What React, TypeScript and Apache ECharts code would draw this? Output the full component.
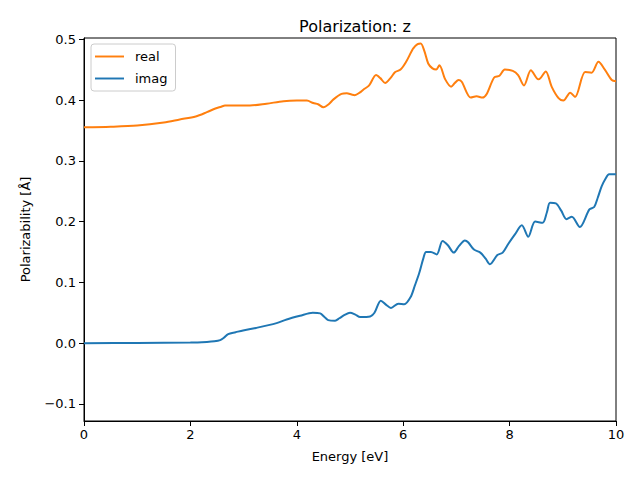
import React, { useEffect, useRef } from "react";
import * as echarts from "echarts";

const realEnergy = [0, 0.5, 1.0, 1.5, 1.8, 2.1, 2.31, 2.47, 2.58, 2.65, 2.8, 3.12, 3.43, 3.75, 4.0, 4.19, 4.31, 4.40, 4.50, 4.60, 4.69, 4.84, 4.94, 5.03, 5.09, 5.18, 5.25, 5.36, 5.49, 5.57, 5.66, 5.76, 5.85, 5.95, 6.05, 6.19, 6.27, 6.33, 6.40, 6.47, 6.55, 6.62, 6.68, 6.79, 6.90, 6.97, 7.04, 7.10, 7.27, 7.38, 7.49, 7.57, 7.71, 7.81, 7.91, 8.06, 8.16, 8.27, 8.40, 8.54, 8.58, 8.68, 8.79, 8.92, 9.01, 9.14, 9.23, 9.42, 9.54, 9.67, 9.79, 9.92, 10];
const realValues = [0.355, 0.356, 0.358, 0.363, 0.368, 0.373, 0.380, 0.386, 0.389, 0.391, 0.391, 0.391, 0.394, 0.398, 0.399, 0.399, 0.395, 0.393, 0.388, 0.393, 0.401, 0.410, 0.411, 0.409, 0.408, 0.412, 0.417, 0.424, 0.441, 0.436, 0.428, 0.436, 0.446, 0.450, 0.462, 0.485, 0.492, 0.493, 0.480, 0.460, 0.452, 0.450, 0.457, 0.434, 0.422, 0.428, 0.433, 0.430, 0.404, 0.406, 0.404, 0.410, 0.437, 0.440, 0.450, 0.448, 0.441, 0.424, 0.449, 0.434, 0.436, 0.447, 0.422, 0.403, 0.399, 0.412, 0.405, 0.446, 0.445, 0.463, 0.450, 0.433, 0.431];

const imagEnergy = [0, 1, 2, 2.31, 2.45, 2.56, 2.63, 2.71, 2.85, 2.99, 3.23, 3.62, 3.81, 4.06, 4.30, 4.44, 4.52, 4.59, 4.72, 4.80, 4.89, 5.0, 5.10, 5.19, 5.38, 5.46, 5.58, 5.68, 5.77, 5.91, 6.02, 6.14, 6.22, 6.30, 6.38, 6.43, 6.52, 6.63, 6.74, 6.84, 6.95, 7.05, 7.16, 7.22, 7.33, 7.45, 7.55, 7.63, 7.77, 7.87, 7.98, 8.10, 8.23, 8.35, 8.48, 8.62, 8.70, 8.76, 8.87, 8.97, 9.07, 9.17, 9.32, 9.50, 9.59, 9.66, 9.73, 9.80, 9.87, 10];
const imagValues = [0.000, 0.0005, 0.001, 0.002, 0.003, 0.005, 0.009, 0.015, 0.018, 0.021, 0.025, 0.033, 0.039, 0.045, 0.050, 0.049, 0.043, 0.038, 0.037, 0.041, 0.046, 0.050, 0.047, 0.043, 0.044, 0.050, 0.070, 0.063, 0.058, 0.065, 0.064, 0.076, 0.095, 0.115, 0.140, 0.150, 0.150, 0.146, 0.168, 0.161, 0.149, 0.160, 0.169, 0.166, 0.154, 0.149, 0.139, 0.130, 0.145, 0.149, 0.164, 0.179, 0.194, 0.175, 0.200, 0.198, 0.215, 0.231, 0.230, 0.218, 0.204, 0.208, 0.191, 0.220, 0.224, 0.240, 0.258, 0.270, 0.278, 0.278];

const yTicks = [-0.1, 0, 0.1, 0.2, 0.3, 0.4, 0.5];
const xTicks = [0, 2, 4, 6, 8, 10];

const FONT = "DejaVu Sans";

export default function App() {
  const ref = useRef<HTMLDivElement>(null);
  useEffect(() => {
    if (!ref.current) return;
    const chart = echarts.init(ref.current, null, { renderer: "svg" });
    const realData = realEnergy.map((e, i) => [e, realValues[i]]);
    const imagData = imagEnergy.map((e, i) => [e, imagValues[i]]);
    chart.setOption({
      animation: false,
      backgroundColor: "#ffffff",
      textStyle: { fontFamily: FONT },
      title: {
        text: "Polarization: z",
        left: 350,
        top: 13,
        textAlign: "center",
        textStyle: { fontFamily: FONT, fontSize: 16, fontWeight: "normal", color: "#000" },
      },
      grid: {
        left: 84,
        right: 24,
        top: 38,
        bottom: 59,
        show: true,
        borderColor: "#000",
        borderWidth: 1,
        containLabel: false,
      },
      legend: {
        orient: "vertical",
        left: 91,
        top: 44,
        data: ["real", "imag"],
        icon: "path://M0 0H30V2H0Z",
        itemWidth: 29,
        itemHeight: 2,
        itemGap: 9,
        padding: [6, 8, 6, 4],
        borderColor: "#cccccc",
        borderWidth: 1,
        borderRadius: 3,
        backgroundColor: "rgba(255,255,255,0.8)",
        textStyle: { fontFamily: FONT, fontSize: 13, color: "#000", padding: [0, 0, 0, 6], lineHeight: 13 },
      },
      xAxis: {
        type: "value",
        min: 0,
        max: 10,
        interval: 2,
        name: "Energy [eV]",
        nameLocation: "middle",
        nameGap: 29,
        nameTextStyle: { fontFamily: FONT, fontSize: 13, color: "#000" },
        axisLine: { show: true, onZero: false, lineStyle: { color: "#000", width: 1 } },
        axisTick: { show: true, length: 5, lineStyle: { color: "#000" }, customValues: xTicks },
        axisLabel: { fontFamily: FONT, fontSize: 13, color: "#000", margin: 7, customValues: xTicks },
        splitLine: { show: false },
      },
      yAxis: {
        type: "value",
        min: -0.128,
        max: 0.502,
        name: "Polarizability [Å]",
        nameLocation: "middle",
        nameGap: 52,
        nameTextStyle: { fontFamily: FONT, fontSize: 13, color: "#000" },
        axisLine: { show: true, onZero: false, lineStyle: { color: "#000", width: 1 } },
        axisTick: { show: true, length: 5, lineStyle: { color: "#000" }, customValues: yTicks },
        axisLabel: {
          fontFamily: FONT,
          fontSize: 13,
          color: "#000",
          margin: 8,
          customValues: yTicks,
          formatter: (v: number) => (v < -1e-9 ? "\u2212" + Math.abs(v).toFixed(1) : Math.abs(v).toFixed(1)),
        },
        splitLine: { show: false },
      },
      series: [
        {
          name: "real",
          type: "line",
          data: realData,
          showSymbol: false,
          symbol: "none",
          smooth: 0.3,
          lineStyle: { color: "#ff7f0e", width: 2 },
          itemStyle: { color: "#ff7f0e" },
        },
        {
          name: "imag",
          type: "line",
          data: imagData,
          showSymbol: false,
          symbol: "none",
          smooth: 0.3,
          lineStyle: { color: "#1f77b4", width: 2 },
          itemStyle: { color: "#1f77b4" },
        },
      ],
    });
    return () => chart.dispose();
  }, []);
  return (
    <div
      ref={ref}
      style={{ position: "fixed", left: 0, top: 0, width: 640, height: 480, background: "#fff" }}
    />
  );
}
